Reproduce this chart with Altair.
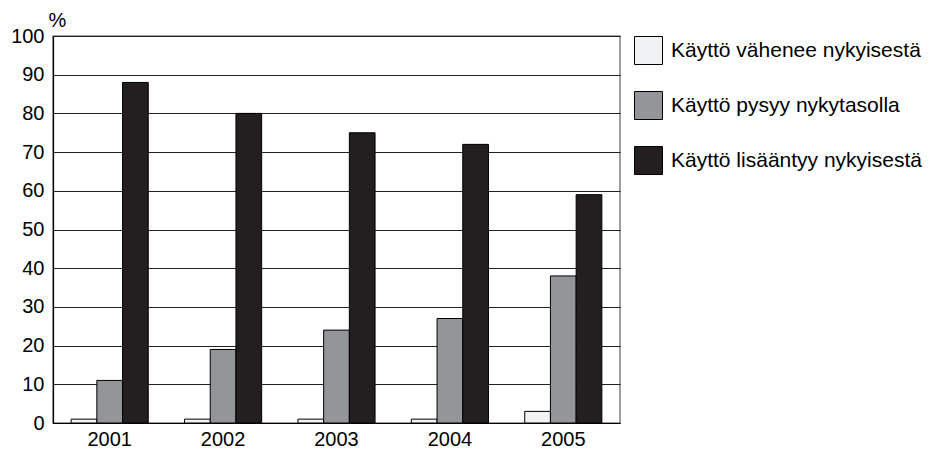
import altair as alt
import pandas as pd

years = ["2001", "2002", "2003", "2004", "2005"]
series = ["Käyttö vähenee nykyisestä", "Käyttö pysyy nykytasolla", "Käyttö lisääntyy nykyisestä"]
vahenee = [1, 1, 1, 1, 3]
pysyy = [11, 19, 24, 27, 38]
lisaantyy = [88, 80, 75, 72, 59]
colors = ["#f1f2f3", "#939598", "#231f20"]

rows = []
for i, y in enumerate(years):
    for s, vals in zip(series, [vahenee, pysyy, lisaantyy]):
        rows.append({"year": y, "series": s, "value": vals[i]})
df = pd.DataFrame(rows)

FONT = "Liberation Sans"

chart = alt.Chart(df).mark_bar(stroke="black", strokeWidth=1).encode(
    x=alt.X("year:N", sort=years, title=None,
            scale=alt.Scale(paddingInner=0.32, paddingOuter=0.16),
            axis=alt.Axis(labelAngle=0, ticks=False, labelPadding=6, labelFontSize=20,
                          labelColor="black", domainColor="black", domainWidth=1.2,
                          labelFont=FONT, grid=False)),
    xOffset=alt.XOffset("series:N", sort=series, scale=alt.Scale(paddingInner=0, paddingOuter=0)),
    y=alt.Y("value:Q", scale=alt.Scale(domain=[0, 100], nice=False),
            axis=alt.Axis(values=list(range(0, 101, 10)), ticks=False, labelPadding=9,
                          labelFontSize=20, labelColor="black", labelFont=FONT,
                          domainColor="black", domainWidth=1.2,
                          gridColor="#222222", gridWidth=1,
                          title="%", titleAngle=0, titleX=-5, titleY=-10,
                          titleAlign="left", titleBaseline="alphabetic",
                          titleFontSize=20, titleFontWeight="normal", titleFont=FONT,
                          titleColor="black")),
    color=alt.Color("series:N", sort=series,
                    scale=alt.Scale(domain=series, range=colors),
                    legend=alt.Legend(title=None, symbolType="square", symbolSize=784,
                                      symbolStrokeColor="black", symbolStrokeWidth=1,
                                      symbolOpacity=1, labelFontSize=21, labelFont=FONT,
                                      labelColor="black", rowPadding=22, offset=14,
                                      padding=0, labelOffset=8, labelLimit=400)),
).properties(
    width=567,
    height=387,
    autosize=alt.AutoSizeParams(type="none"),
    padding={"left": 45, "top": 28, "right": 310, "bottom": 27},
).configure_view(
    stroke="#808080", strokeWidth=1.5
)

chart.save("out.html", embed_options={"renderer": "svg", "actions": False})
